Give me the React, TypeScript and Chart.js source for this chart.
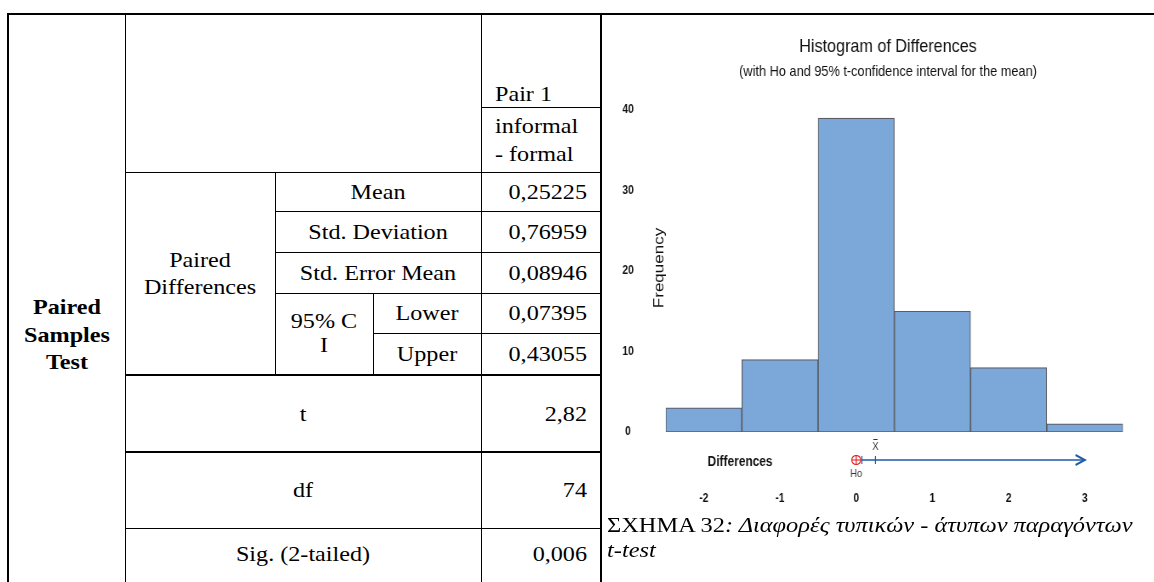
import React, { useEffect, useRef } from "react";
import { Chart, registerables } from "chart.js";

Chart.register(...registerables);

// ---------------- data ----------------
const binCenters = [-2, -1, 0, 1, 2, 3];
const frequencies = [3, 9, 39, 15, 8, 1];
const xTickValues = [-2, -1, 0, 1, 2, 3];
const yTickValues = [0, 10, 20, 30, 40];
const xRange = [-2.5, 3.5];
const yRange = [0, 40];
const hoValue = 0;
const meanDiff = 0.25225;
const ciLowerBound = 0.07395;
const ciArrowEnd = 3.0;

const chartTitle = "Histogram of Differences";
const chartSubtitle = "(with Ho and 95% t-confidence interval for the mean)";
const yAxisLabel = "Frequency";
const xAxisLabel = "Differences";

const statLabels = ["Mean", "Std. Deviation", "Std. Error Mean", "Lower", "Upper"];
const statValues = ["0,25225", "0,76959", "0,08946", "0,07395", "0,43055"];
const testLabels = ["t", "df", "Sig. (2-tailed)"];
const testValues = ["2,82", "74", "0,006"];

// ---------------- styling ----------------
const SANS = "'Liberation Sans', Arial, sans-serif";
const SERIF = "'Liberation Serif', 'Times New Roman', serif";
const STRETCH = 1.15;
// the chart picture is horizontally condensed; the canvas is drawn wider and squeezed by CSS
const CSS_W = 551;
const CANVAS_W = 648;
const K = CSS_W / CANVAS_W;

type TxtProps = {
  x: number;
  y: number;
  align?: "left" | "center" | "right";
  bold?: boolean;
  size?: number;
  lh?: number;
  stretch?: number;
  children: React.ReactNode;
};

function Txt({ x, y, align = "center", bold, size = 21, lh = 27, stretch = STRETCH, children }: TxtProps) {
  let transform = `translate(-50%,-50%) scaleX(${stretch})`;
  let origin = "50% 50%";
  if (align === "right") {
    transform = `translate(-100%,-50%) scaleX(${stretch})`;
    origin = "100% 50%";
  } else if (align === "left") {
    transform = `translateY(-50%) scaleX(${stretch})`;
    origin = "0% 50%";
  }
  return (
    <div
      style={{
        position: "absolute",
        left: x,
        top: y,
        transform,
        transformOrigin: origin,
        whiteSpace: "nowrap",
        fontFamily: SERIF,
        fontSize: size,
        lineHeight: `${lh}px`,
        fontWeight: bold ? 700 : 400,
        textAlign: align,
        color: "#000",
      }}
    >
      {children}
    </div>
  );
}

function HLine({ x1, x2, y, w = 1 }: { x1: number; x2: number; y: number; w?: number }) {
  return <div style={{ position: "absolute", left: x1, top: y, width: x2 - x1, height: w, background: "#000" }} />;
}
function VLine({ x, y1, y2, w = 1 }: { x: number; y1: number; y2: number; w?: number }) {
  return <div style={{ position: "absolute", left: x, top: y1, width: w, height: y2 - y1, background: "#000" }} />;
}

const overlayPlugin = {
  id: "diffOverlay",
  afterDraw(chart: any) {
    const { ctx, chartArea, scales } = chart;
    const xs = scales.x;
    ctx.save();
    ctx.fillStyle = "#111";
    ctx.textAlign = "center";
    ctx.textBaseline = "middle";

    // vertical axis title (drawn inside the tick labels, as in the source)
    ctx.save();
    ctx.font = `17px ${SANS}`;
    ctx.translate(chartArea.left - 7.5, (chartArea.top + chartArea.bottom) / 2 - 3);
    ctx.rotate(-Math.PI / 2);
    ctx.fillText(yAxisLabel, 0, 0);
    ctx.restore();

    const lineY = chartArea.bottom + 28;

    // horizontal axis title
    ctx.font = `bold 14px ${SANS}`;
    ctx.fillText(xAxisLabel, chartArea.left + 87.5, lineY + 2);

    // confidence interval line with arrow
    const x1 = xs.getPixelForValue(ciLowerBound);
    const x2 = xs.getPixelForValue(ciArrowEnd);
    const xm = xs.getPixelForValue(meanDiff);
    const xh = xs.getPixelForValue(hoValue);
    ctx.strokeStyle = "#1f5aa6";
    ctx.lineWidth = 1.5;
    ctx.beginPath();
    ctx.moveTo(x1, lineY);
    ctx.lineTo(x2 - 1, lineY);
    ctx.stroke();
    ctx.lineWidth = 2;
    ctx.beginPath();
    ctx.moveTo(x2 - 11, lineY - 5);
    ctx.lineTo(x2, lineY);
    ctx.lineTo(x2 - 11, lineY + 5);
    ctx.stroke();
    ctx.lineWidth = 1.2;
    ctx.beginPath();
    ctx.moveTo(x1, lineY - 4);
    ctx.lineTo(x1, lineY + 4);
    ctx.moveTo(xm, lineY - 4);
    ctx.lineTo(xm, lineY + 4);
    ctx.stroke();

    // mean label (x-bar)
    ctx.font = `11px ${SANS}`;
    ctx.fillStyle = "#333";
    ctx.fillText("X", xm, lineY - 13);
    ctx.strokeStyle = "#333";
    ctx.lineWidth = 1;
    ctx.beginPath();
    ctx.moveTo(xm - 2.5, lineY - 20.5);
    ctx.lineTo(xm + 2.5, lineY - 20.5);
    ctx.stroke();

    // Ho marker
    const r = 4.5;
    ctx.strokeStyle = "#e01818";
    ctx.lineWidth = 1.2;
    ctx.beginPath();
    ctx.ellipse(xh, lineY, r / K, r, 0, 0, Math.PI * 2);
    ctx.moveTo(xh - r / K, lineY);
    ctx.lineTo(xh + r / K, lineY);
    ctx.moveTo(xh, lineY - r);
    ctx.lineTo(xh, lineY + r);
    ctx.stroke();
    ctx.fillStyle = "#333";
    ctx.font = `11px ${SANS}`;
    ctx.fillText("Ho", xh, lineY + 14);
    ctx.restore();
  },
};

function Histogram() {
  const ref = useRef<HTMLCanvasElement | null>(null);
  useEffect(() => {
    if (!ref.current) return;
    const chart = new Chart(ref.current, {
      type: "bar",
      data: {
        datasets: [
          {
            data: binCenters.map((x, i) => ({ x, y: frequencies[i] })),
            backgroundColor: "#7ba7d9",
            borderColor: "#595e66",
            borderWidth: 1.2,
            borderSkipped: false,
            barPercentage: 1,
            categoryPercentage: 1,
          } as any,
        ],
      },
      options: {
        animation: false,
        responsive: false,
        devicePixelRatio: 1,
        layout: { padding: { left: 22.4, right: 0, top: 0, bottom: 0 } },
        plugins: {
          legend: { display: false },
          tooltip: { enabled: false },
          title: {
            display: true,
            text: chartTitle,
            color: "#111",
            font: { family: SANS, size: 19, weight: "normal" },
            padding: { top: 19.6, bottom: 4.6 },
          },
          subtitle: {
            display: true,
            text: chartSubtitle,
            color: "#111",
            font: { family: SANS, size: 15, weight: "normal" },
            padding: { top: 0, bottom: 29 },
          },
        },
        scales: {
          x: {
            type: "linear",
            offset: false,
            min: xRange[0],
            max: xRange[1],
            grid: { display: false, drawTicks: false, offset: false },
            border: { display: false },
            afterBuildTicks: (s: any) => {
              s.ticks = xTickValues.map((v) => ({ value: v }));
            },
            afterFit: (s: any) => {
              s.height = 150;
            },
            ticks: {
              padding: 59.5,
              color: "#111",
              font: { family: SANS, size: 12, weight: "bold" },
            },
          },
          y: {
            min: yRange[0],
            max: yRange[1],
            grid: { display: false, drawTicks: false },
            border: { display: false },
            afterBuildTicks: (s: any) => {
              s.ticks = yTickValues.map((v) => ({ value: v }));
            },
            afterFit: (s: any) => {
              s.width = 51.3;
            },
            ticks: {
              padding: 37.6,
              crossAlign: "center",
              color: "#111",
              font: { family: SANS, size: 12, weight: "bold" },
            },
          },
          // empty right-hand box that reserves the space right of the last bin
          yRight: {
            position: "right",
            display: true,
            grid: { display: false, drawTicks: false },
            border: { display: false },
            ticks: { display: false },
            afterFit: (s: any) => {
              s.width = 36.5;
            },
          },
        },
      } as any,
      plugins: [overlayPlugin],
    });
    return () => chart.destroy();
  }, []);
  return (
    <canvas
      ref={ref}
      width={CANVAS_W}
      height={566}
      style={{ position: "absolute", left: 603, top: 16, width: CSS_W, height: 566 }}
    />
  );
}

export default function App() {
  const statY = [191.5, 231.5, 272.5, 313, 354];
  const statX = [378, 378, 378, 427, 427];
  const testY = [413.5, 490, 554];
  return (
    <div
      style={{
        position: "fixed",
        left: 0,
        top: 0,
        width: 1154,
        height: 582,
        overflow: "hidden",
        background: "#fff",
      }}
    >
      {/* table grid */}
      <HLine x1={8} x2={1154} y={13} w={2} />
      <VLine x={7} y1={13} y2={582} w={2} />
      <VLine x={125} y1={13} y2={582} />
      <VLine x={275} y1={172} y2={375} />
      <VLine x={373} y1={293} y2={375} />
      <VLine x={481} y1={13} y2={582} />
      <VLine x={600} y1={13} y2={582} w={2} />
      <HLine x1={481} x2={600} y={107} />
      <HLine x1={125} x2={600} y={172} />
      <HLine x1={275} x2={600} y={211} />
      <HLine x1={275} x2={600} y={252} />
      <HLine x1={275} x2={600} y={293} />
      <HLine x1={373} x2={600} y={333} />
      <HLine x1={125} x2={600} y={374} w={2} />
      <HLine x1={125} x2={600} y={451} w={2} />
      <HLine x1={125} x2={600} y={528} />

      {/* table text */}
      <Txt x={67} y={335} bold lh={27.5}>
        Paired
        <br />
        Samples
        <br />
        Test
      </Txt>
      <Txt x={495} y={94} align="left">Pair 1</Txt>
      <Txt x={495} y={140} align="left" lh={28}>
        informal
        <br />- formal
      </Txt>
      <Txt x={200} y={273.5}>
        Paired
        <br />
        Differences
      </Txt>
      <Txt x={324} y={333} lh={24}>
        95% C
        <br />I
      </Txt>
      {statLabels.map((l, i) => (
        <Txt key={l} x={statX[i]} y={statY[i]}>
          {l}
        </Txt>
      ))}
      {statValues.map((v, i) => (
        <Txt key={v} x={587} y={statY[i]} align="right">
          {v}
        </Txt>
      ))}
      {testLabels.map((l, i) => (
        <Txt key={l} x={303} y={testY[i]}>
          {l}
        </Txt>
      ))}
      {testValues.map((v, i) => (
        <Txt key={v} x={587} y={testY[i]} align="right">
          {v}
        </Txt>
      ))}

      <Histogram />

      {/* caption */}
      <Txt x={607} y={537.5} align="left" size={20} lh={25} stretch={1.22}>
        <span>ΣΧΗΜΑ 32</span>
        <i>: Διαφορές τυπικών - άτυπων παραγόντων</i>
        <br />
        <i>t-test</i>
      </Txt>
    </div>
  );
}
